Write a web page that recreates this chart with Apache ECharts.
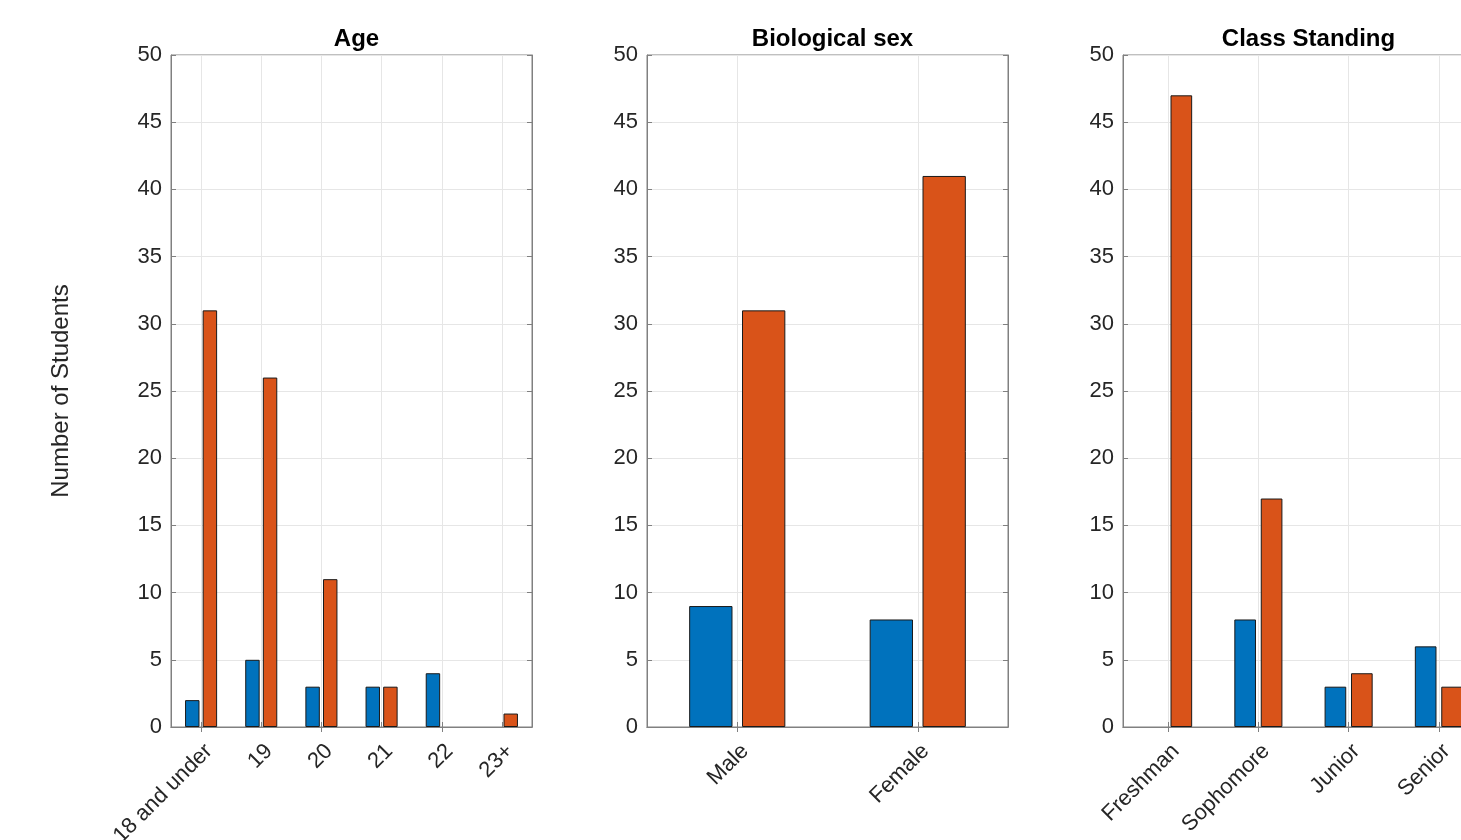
<!DOCTYPE html>
<html>
<head>
<meta charset="utf-8">
<script src="https://cdn.jsdelivr.net/npm/echarts@6/dist/echarts.min.js"></script>
<style>html,body{margin:0;padding:0;background:#fff}#c{width:1461px;height:840px}</style>
</head>
<body>
<div id="c"></div>
<script>
const titles = ['Age', 'Biological sex', 'Class Standing'];
const ageCats = ['18 and under', '19', '20', '21', '22', '23+'];
const ageBlue = [2, 5, 3, 3, 4, 0];
const ageOrange = [31, 26, 11, 3, 0, 1];
const sexCats = ['Male', 'Female'];
const sexBlue = [9, 8];
const sexOrange = [31, 41];
const classCats = ['Freshman', 'Sophomore', 'Junior', 'Senior'];
const classBlue = [0, 8, 3, 6];
const classOrange = [47, 17, 4, 3];
const yTicks = [0, 5, 10, 15, 20, 25, 30, 35, 40, 45, 50];
const yName = 'Number of Students';

const panels = [
  {cats: ageCats, blue: ageBlue, orange: ageOrange},
  {cats: sexCats, blue: sexBlue, orange: sexOrange},
  {cats: classCats, blue: classBlue, orange: classOrange}
];
const lefts = [171, 647, 1123];
const W = 361;
const FONT = 'Liberation Sans, Arial, Helvetica, sans-serif';
const axisCol = '#808080';
const textCol = '#262626';
const gridCol = '#e6e6e6';

function toItems(arr) {
  return arr.map(v => v === 0 ? {value: v, itemStyle: {borderWidth: 0, opacity: 0}} : v);
}

const option = {
  animation: false,
  backgroundColor: '#fff',
  title: [], grid: [], xAxis: [], yAxis: [], series: []
};
panels.forEach((p, i) => {
  option.grid.push({left: lefts[i], top: 55, width: W, height: 672, show: true,
    borderColor: axisCol, borderWidth: 1, backgroundColor: 'transparent',
    outerBoundsMode: 'none', containLabel: false});
  option.title.push({text: titles[i], left: lefts[i] + W / 2, top: 22, textAlign: 'center',
    textStyle: {fontFamily: FONT, fontSize: 24, fontWeight: 'bold', color: '#000'}});
  option.xAxis.push({type: 'category', gridIndex: i, data: p.cats, boundaryGap: true,
    axisLine: {show: true, lineStyle: {color: axisCol, width: 1}},
    axisTick: {show: true, inside: true, length: 5, alignWithLabel: true, lineStyle: {color: axisCol}},
    axisLabel: {rotate: 45, fontFamily: FONT, fontSize: 22, color: textCol, margin: 13, interval: 0,
      align: 'right', verticalAlign: 'top'},
    splitLine: {show: true, alignWithLabel: true, lineStyle: {color: gridCol, width: 1}}
  });
  option.xAxis.push({type: 'category', gridIndex: i, data: p.cats, position: 'top', boundaryGap: true,
    axisLine: {show: true, lineStyle: {color: axisCol, width: 1}},
    axisTick: {show: true, inside: true, length: 5, alignWithLabel: true, lineStyle: {color: axisCol}},
    axisLabel: {show: false}, splitLine: {show: false}
  });
  option.yAxis.push({type: 'value', gridIndex: i, min: 0, max: 50, interval: 5,
    name: i === 0 ? yName : '', nameLocation: 'middle', nameGap: 98,
    nameTextStyle: {fontFamily: FONT, fontSize: 24, color: textCol},
    axisLine: {show: true, lineStyle: {color: axisCol, width: 1}},
    axisTick: {show: true, inside: true, length: 5, lineStyle: {color: axisCol}},
    axisLabel: {fontFamily: FONT, fontSize: 22, color: textCol, margin: 9, padding: [5, 0, 0, 0],
      formatter: v => yTicks.includes(v) ? String(v) : ''},
    splitLine: {show: true, lineStyle: {color: gridCol, width: 1}}
  });
  option.yAxis.push({type: 'value', gridIndex: i, min: 0, max: 50, interval: 5, position: 'right',
    axisLine: {show: true, lineStyle: {color: axisCol, width: 1}},
    axisTick: {show: true, inside: true, length: 5, lineStyle: {color: axisCol}},
    axisLabel: {show: false}, splitLine: {show: false}
  });
  const common = {type: 'bar', barWidth: '24%', barGap: '22%', xAxisIndex: i * 2, yAxisIndex: i * 2};
  option.series.push(Object.assign({}, common, {name: 'blue' + i, data: toItems(p.blue),
    itemStyle: {color: '#0072BD', borderColor: '#1a1a1a', borderWidth: 1}}));
  option.series.push(Object.assign({}, common, {name: 'orange' + i, data: toItems(p.orange),
    itemStyle: {color: '#D95319', borderColor: '#1a1a1a', borderWidth: 1}}));
});
const chart = echarts.init(document.getElementById('c'), null, {renderer: 'canvas'});
chart.setOption(option);
</script>
</body>
</html>
